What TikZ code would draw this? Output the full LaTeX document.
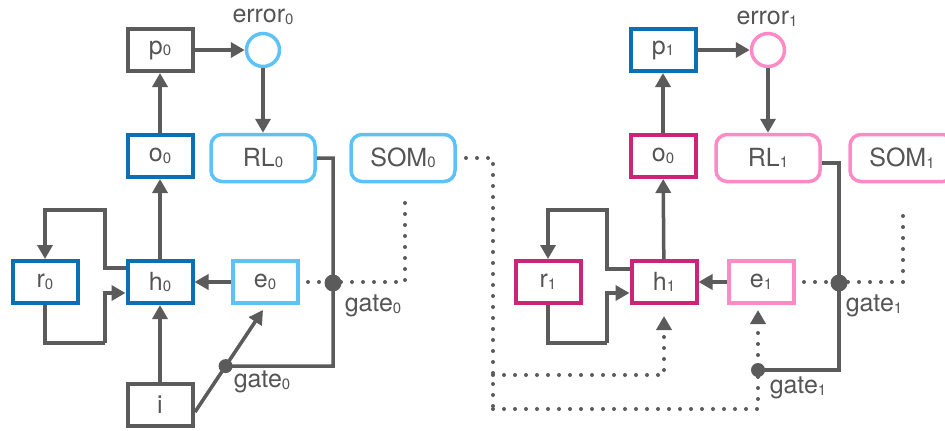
\documentclass[tikz,border=0pt]{standalone}
\usepackage{fontspec}
\setmainfont{TeX Gyre Heros}
\usetikzlibrary{arrows.meta,calc}
\definecolor{gr}{HTML}{5B5B5B}
\definecolor{txt}{HTML}{555555}
\definecolor{dblue}{HTML}{0A70B6}
\definecolor{lblue}{HTML}{5CC2F7}
\definecolor{mag}{HTML}{CC2479}
\definecolor{pink}{HTML}{FF8AC6}
\newcommand{\dg}[1]{\raisebox{-1.5pt}{\fontsize{15}{15}\selectfont #1}}
\begin{document}
\begin{tikzpicture}[x=1pt,y=-1pt,
  box/.style={draw=#1, line width=4pt, minimum width=65pt, minimum height=42pt, inner sep=0pt, text=txt, font=\fontsize{25}{25}\selectfont},
  rbox/.style={draw=#1, line width=3.5pt, rounded corners=11pt, minimum width=104pt, minimum height=47pt, inner sep=0pt, text=txt, font=\fontsize{25}{25}\selectfont},
  circ/.style={draw=#1, line width=3.5pt, circle, minimum size=33pt, inner sep=0pt},
  lbl/.style={text=txt, inner sep=0pt, font=\fontsize{25}{25}\selectfont},
  ln/.style={draw=gr, line width=3.5pt},
  arr/.style={draw=gr, line width=3.5pt, -{Triangle[length=14pt,width=15pt]}},
  dots/.style={draw=gr, line width=4pt, line cap=round, dash pattern=on 0pt off 11pt},
  darr/.style={dots, -{Triangle[length=14pt,width=15pt]}},
  gdot/.style={circle, fill=gr, inner sep=0pt, minimum size=#1},
]
\clip (0,0) rectangle (945,431);
\fill[white] (0,0) rectangle (945,431);
% ---------- left module ----------
\node[box=gr] (p0) at (160,50) {p\dg{0}};
\node[circ=lblue] (err0) at (263,50) {};
\node[lbl] (err0l) at (263,17) {error\dg{0}};
\node[box=dblue] (o0) at (160,156) {o\dg{0}};
\node[rbox=lblue] (RL0) at (263,158) {RL\dg{0}};
\node[rbox=lblue] (SOM0) at (403,158) {SOM\dg{0}};
\node[box=dblue] (r0) at (45,282) {r\dg{0}};
\node[box=dblue] (h0) at (160,282) {h\dg{0}};
\node[box=lblue] (e0) at (265,282) {e\dg{0}};
\node[box=gr] (i) at (160,405) {i};
\node[gdot=17pt] (g0a) at (333,283) {};
\node[lbl] (g0al) at (373,306) {gate\dg{0}};
\coordinate (istart) at (195,412);
\coordinate (etip0) at (263,310);
\node[gdot=14pt] (g0b) at ($(istart)!0.45!(etip0)$) {};
\node[lbl] (g0bl) at (262,382) {gate\dg{0}};

\draw[arr] (o0) -- (p0);
\draw[arr] (p0) -- (err0);
\draw[arr] (err0) -- (RL0);
\draw[arr] (h0) -- (o0);
\draw[arr] (i) -- (h0);
\draw[arr] (e0) -- (h0);
\draw[ln] (h0.west |- 0,268) -| (105,210) -| (45,210);
\draw[arr] (105,210) -| (r0.north);
\draw[ln] (r0.south) |- (105,343);
\draw[arr] (105,343) |- (h0.west |- 0,293);
\draw[arr] (istart) -- (etip0);
\draw[ln] (RL0.east) -| (g0a.center) -- (333,366) -- (g0b.center);
\draw[dots] (308,282) -| (405,197);
% connections between modules
\draw[dots] (466,158) -| (493,409);
% ---------- right module ----------
\node[box=dblue] (p1) at (663,50) {p\dg{1}};
\node[circ=pink] (err1) at (768,50) {};
\node[lbl] (err1l) at (767,19) {error\dg{1}};
\node[box=mag] (o1) at (663,156) {o\dg{0}};
\node[rbox=pink] (RL1) at (768,158) {RL\dg{1}};
\node[rbox=pink] (SOM1) at (902,158) {SOM\dg{1}};
\node[box=mag] (r1) at (548,282) {r\dg{1}};
\node[box=mag] (h1) at (664,282) {h\dg{1}};
\node[box=pink] (e1) at (761,282) {e\dg{1}};
\node[gdot=17pt] (g1a) at (839,283) {};
\node[lbl] (g1al) at (874,306) {gate\dg{1}};
\node[gdot=14pt] (g1b) at (758,370) {};
\node[lbl] (g1bl) at (798,388) {gate\dg{1}};
\coordinate (htip1) at (664,316);
\coordinate (etip1) at (758,310);

\draw[arr] (o1) -- (p1);
\draw[arr] (p1) -- (err1);
\draw[arr] (err1) -- (RL1);
\draw[arr] (h1) -- (o1);
\draw[arr] (e1) -- (h1);
\draw[ln] (h1.west |- 0,269) -| (607,210) -| (548,210);
\draw[arr] (607,210) -| (r1.north);
\draw[ln] (r1.south) |- (607,343);
\draw[arr] (607,343) |- (h1.west |- 0,293);
\draw[ln] (RL1.east |- 0,163) -| (g1a.center) -- (839,370) -- (g1b.center);
\draw[dots] (804,282) -| (903,205);
\draw[darr] (493,375) -| (htip1);
\draw[darr] (493,409) -| (etip1);
\end{tikzpicture}
\end{document}
